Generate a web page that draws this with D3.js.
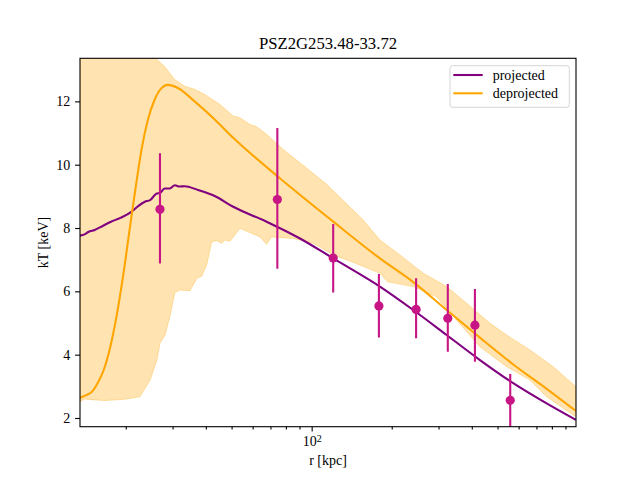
<!DOCTYPE html>
<html>
<head>
<meta charset="utf-8">
<script src="https://cdn.jsdelivr.net/npm/d3@7"></script>
<style>
body { margin: 0; background: #fff; }
text { font-family: "Liberation Serif", "DejaVu Serif", serif; }
</style>
</head>
<body>
<div id="chart"></div>
<script>
// datos: perfil proyectado (r en kpc, kT en keV)
const projR = [13.46, 14.0, 14.5, 15.3, 16.0, 17.6, 19.1, 21.0, 22.2, 23.6, 24.7, 26.0, 27.0, 28.0, 29.3, 30.6, 31.9, 33.3, 37.4, 43.2, 50.7, 67.7, 90.4, 120.6, 180.6, 241, 321.8, 429.3, 572.6, 764.6, 985]
const projT = [7.76, 7.8, 7.88, 7.94, 8.02, 8.2, 8.32, 8.51, 8.68, 8.83, 8.88, 9.08, 9.12, 9.25, 9.25, 9.35, 9.31, 9.32, 9.2, 9.01, 8.67, 8.2, 7.67, 7.04, 6.15, 5.41, 4.62, 3.83, 3.1, 2.46, 1.94]

// perfil deproyectado
const deprR = [13.46, 14.2, 15.0, 15.8, 16.5, 17.5, 18.5, 19.6, 20.8, 21.9, 22.9, 24.2, 25.7, 27.2, 28.8, 31.4, 36.3, 43.2, 50.7, 74, 120.6, 180.6, 241, 322, 429, 573, 765, 985]
const deprT = [2.64, 2.72, 2.85, 3.15, 3.5, 4.25, 5.25, 6.55, 8.1, 9.4, 10.45, 11.4, 12.06, 12.41, 12.52, 12.42, 12.0, 11.43, 10.85, 9.65, 8.2, 7.04, 6.29, 5.41, 4.54, 3.69, 2.92, 2.22]

// banda de error del deproyectado
const upR = [13.46, 20, 24, 25.9, 28.0, 30.55, 33.3, 36.3, 39.6, 41.5, 45.2, 50.7, 53.8, 58.6, 62.1, 67.7, 78.2, 90.4, 113.9, 156.3, 180.6, 214.8, 262.8, 321.8, 382.6, 468.1, 541, 661.6, 809.6, 985]
const upT = [15, 14.6, 13.9, 13.36, 13.1, 12.69, 12.48, 12.38, 12.22, 12.11, 11.9, 11.54, 11.48, 11.27, 11.2, 10.96, 10.48, 10.06, 9.38, 8.25, 7.62, 7.15, 6.57, 6.15, 5.62, 4.99, 4.62, 4.15, 3.62, 2.99]
const loR = [13.46, 14.0, 14.8, 16.7, 19.8, 22.6, 24.7, 26.2, 26.9, 28.1, 29.3, 30.6, 32.0, 34.9, 37.0, 38.6, 40.3, 42.1, 44.0, 45.9, 47.2, 49.3, 53.8, 63.9, 67.7, 70.7, 85.3, 101.4, 104.4, 120.6, 140, 160, 180.6, 193, 241, 295, 351, 429, 541, 662, 765, 985]
const loT = [2.51, 2.6, 2.58, 2.55, 2.59, 2.67, 3.2, 3.83, 4.36, 4.62, 5.2, 5.96, 6.04, 6.02, 6.41, 6.48, 6.83, 7.57, 7.6, 7.52, 7.62, 7.58, 7.99, 7.72, 7.49, 7.72, 7.67, 7.52, 7.46, 7.15, 6.95, 6.75, 6.57, 6.3, 6.15, 5.83, 5.09, 4.25, 3.62, 3.2, 2.67, 2.04]

// puntos medidos con barras de error
const ptR = [26.9, 74.3, 120.5, 179, 247, 325, 411, 558]
const ptT = [8.59, 8.9, 7.05, 5.54, 5.43, 5.15, 4.93, 2.56]
const ptLo = [6.88, 6.71, 5.96, 4.54, 4.52, 4.09, 3.78, 1.5]
const ptHi = [10.36, 11.16, 8.13, 6.55, 6.41, 6.23, 6.07, 3.39]

// ticks
const yTicks = [2, 4, 6, 8, 10, 12]
const xMajor = [100]
const xMinor = [20, 30, 40, 50, 60, 70, 80, 90, 200, 300, 400, 500, 600, 700, 800, 900]

const title = "PSZ2G253.48-33.72"
const legendNames = ["projected", "deprojected"]

// Constantes:
const width = 640
const height = 480
const margins = { top: 58.3, left: 80, right: 64, bottom: 53.3 }
const eWidth = width - margins.left - margins.right
const eHeight = height - margins.top - margins.bottom
const purple = "#800080"
const orange = "#FFA500"
const pointColor = "#C71585"

// grupos:
let svg = d3.select('div#chart').append('svg').attr('width', width).attr('height', height)
svg.append('defs').append('clipPath').attr('id', 'clip')
    .append('rect').attr('width', eWidth).attr('height', eHeight)
let elementGroup = svg.append('g').attr('id', 'elementGroup')
    .attr('transform', `translate(${margins.left}, ${margins.top})`)
let plotGroup = elementGroup.append('g').attr('clip-path', 'url(#clip)')
let axisGroup = svg.append('g').attr('id', 'axisGroup')

// escalas:
let x = d3.scaleLog().domain([13.46, 986]).range([0, eWidth])
let y = d3.scaleLinear().domain([1.725, 13.36]).range([eHeight, 0])

// banda
let bandPts = upR.map((r, i) => [r, upT[i]]).concat(loR.map((r, i) => [r, loT[i]]).reverse())
let bandLine = d3.line().x(d => x(d[0])).y(d => y(d[1]))
plotGroup.append('path')
    .attr('d', bandLine(bandPts) + 'Z')
    .attr('fill', orange).attr('fill-opacity', 0.3)
    .attr('stroke', orange).attr('stroke-opacity', 0.3).attr('stroke-width', 1)

// líneas
let line = d3.line().x(d => x(d[0])).y(d => y(d[1])).curve(d3.curveMonotoneX)
plotGroup.append('path')
    .attr('d', line(projR.map((r, i) => [r, projT[i]])))
    .attr('fill', 'none').attr('stroke', purple).attr('stroke-width', 2.1)
plotGroup.append('path')
    .attr('d', line(deprR.map((r, i) => [r, deprT[i]])))
    .attr('fill', 'none').attr('stroke', orange).attr('stroke-width', 2.1)

// barras de error y puntos
let points = ptR.map((r, i) => ({ r: r, t: ptT[i], lo: ptLo[i], hi: ptHi[i] }))
plotGroup.selectAll('line.err').data(points).enter().append('line')
    .attr('class', 'err')
    .attr('x1', d => x(d.r)).attr('x2', d => x(d.r))
    .attr('y1', d => y(d.lo)).attr('y2', d => y(d.hi))
    .attr('stroke', pointColor).attr('stroke-width', 2.1)
plotGroup.selectAll('circle').data(points).enter().append('circle')
    .attr('cx', d => x(d.r)).attr('cy', d => y(d.t)).attr('r', 4.6)
    .attr('fill', pointColor)

// ejes:
let xAxisGroup = axisGroup.append('g').attr('transform', `translate(${margins.left}, ${margins.top + eHeight})`)
let xMinorGroup = axisGroup.append('g').attr('transform', `translate(${margins.left}, ${margins.top + eHeight})`)
let yAxisGroup = axisGroup.append('g').attr('transform', `translate(${margins.left}, ${margins.top})`)

let xAxis = d3.axisBottom(x).tickValues(xMajor).tickSize(4.9).tickPadding(4.9).tickFormat(() => '')
let xMinorAxis = d3.axisBottom(x).tickValues(xMinor).tickSize(2.8).tickFormat(() => '')
let yAxis = d3.axisLeft(y).tickValues(yTicks).tickSize(4.9).tickPadding(4.9).tickFormat(d3.format('d'))

xAxisGroup.call(xAxis)
xMinorGroup.call(xMinorAxis)
yAxisGroup.call(yAxis)

axisGroup.selectAll('.domain').remove()
axisGroup.selectAll('.tick line').attr('stroke', '#000').attr('stroke-width', 1.1)
axisGroup.selectAll('text').attr('font-family', '"Liberation Serif", serif').attr('font-size', 14).attr('fill', '#000')
xMinorGroup.selectAll('text').remove()

// etiqueta 10^2
xAxisGroup.selectAll('.tick text').each(function(d) {
    let t = d3.select(this).attr('text-anchor', 'middle')
    t.append('tspan').text('10')
    t.append('tspan').attr('dy', '-0.45em').attr('font-size', 10).text(Math.round(Math.log10(d)))
})

// marco
elementGroup.append('rect').attr('width', eWidth).attr('height', eHeight)
    .attr('fill', 'none').attr('stroke', '#000').attr('stroke-width', 1.1)

// títulos
svg.append('text').attr('x', margins.left + eWidth / 2).attr('y', 48.5)
    .attr('text-anchor', 'middle').attr('font-size', 16.7).text(title)
svg.append('text').attr('x', margins.left + eWidth / 2).attr('y', 465)
    .attr('text-anchor', 'middle').attr('font-size', 14).text('r [kpc]')
svg.append('text').attr('transform', `translate(48, ${margins.top + eHeight / 2}) rotate(-90)`)
    .attr('text-anchor', 'middle').attr('font-size', 14).text('kT [keV]')

// leyenda
let legend = svg.append('g').attr('transform', 'translate(450, 65.7)')
legend.append('rect').attr('width', 119.3).attr('height', 41.6).attr('rx', 2.5)
    .attr('fill', '#fff').attr('fill-opacity', 0.8).attr('stroke', '#d5d5d5').attr('stroke-width', 1)
let legendColors = [purple, orange]
legendNames.forEach(function(name, i) {
    let g = legend.append('g').attr('transform', `translate(0, ${9.3 + i * 18.3})`)
    g.append('line').attr('x1', 3.3).attr('x2', 32.7).attr('stroke', legendColors[i]).attr('stroke-width', 2.1)
    g.append('text').attr('x', 42.7).attr('y', 4.8).attr('font-size', 14).text(name)
})
</script>
</body>
</html>
